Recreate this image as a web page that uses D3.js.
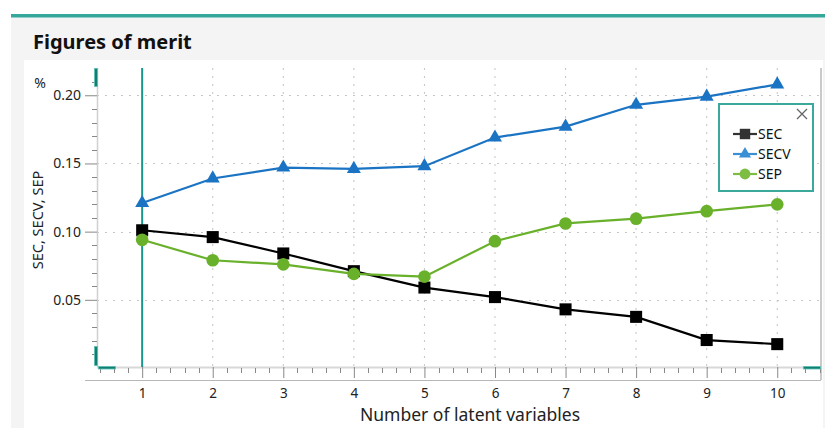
<!DOCTYPE html>
<html>
<head>
<meta charset="utf-8">
<script src="https://cdn.jsdelivr.net/npm/d3@7"></script>
<style>
  html, body { margin: 0; padding: 0; background: #fff; }
  svg { display: block; font-family: "Noto Sans", "Open Sans", sans-serif; }
</style>
</head>
<body>
<svg id="chart" width="825" height="428"></svg>
<script>
// Figures of merit per number of latent variables
const latentVars = [1, 2, 3, 4, 5, 6, 7, 8, 9, 10];
const secValues  = [0.101, 0.096, 0.084, 0.071, 0.059, 0.052, 0.043, 0.0375, 0.0205, 0.0175];
const secvValues = [0.121, 0.139, 0.147, 0.146, 0.148, 0.169, 0.177, 0.193, 0.199, 0.208];
const sepValues  = [0.094, 0.079, 0.076, 0.069, 0.067, 0.093, 0.106, 0.1095, 0.115, 0.120];
const yTickValues = [0.05, 0.10, 0.15, 0.20];
const seriesNames = ["SEC", "SECV", "SEP"];

(function draw() {
  const TEAL = "#17978b";
  const colors = { SEC: "#000000", SECV: "#1b74c3", SEP: "#69b02b" };
  const legendColors = { SEC: "#333333", SECV: "#3b8fd4", SEP: "#7dbd44" };

  const svg = d3.select("#chart");

  // panel frame
  svg.append("rect").attr("x", 11).attr("y", 17).attr("width", 814).attr("height", 411).attr("fill", "#f4f4f4");
  svg.append("rect").attr("x", 11).attr("y", 14).attr("width", 814).attr("height", 3.5).attr("fill", "#36a89b");
  svg.append("rect").attr("x", 24).attr("y", 60).attr("width", 799).attr("height", 368).attr("fill", "#ffffff");
  svg.append("text").attr("x", 33).attr("y", 49).attr("font-size", 20).attr("font-weight", "bold")
    .attr("fill", "#111").text("Figures of merit");

  // plot geometry
  const pLeft = 97, pRight = 821, pTop = 68, pBottom = 367;
  const x = d3.scaleLinear().domain([0.36, 10.62]).range([pLeft, pRight]);
  const y = d3.scaleLinear().domain([0, 0.22]).range([pBottom + 1, pTop]);

  const g = svg.append("g");

  // dotted grid
  g.selectAll("line.vgrid").data(latentVars).join("line").attr("class", "vgrid")
    .attr("x1", d => x(d)).attr("x2", d => x(d)).attr("y1", pTop).attr("y2", pBottom)
    .attr("stroke", "#c4c4c4").attr("stroke-dasharray", "2,6");
  g.selectAll("line.hgrid").data(yTickValues).join("line").attr("class", "hgrid")
    .attr("x1", pLeft).attr("x2", pRight)
    .attr("y1", d => Math.round(y(d)) + 0.5).attr("y2", d => Math.round(y(d)) + 0.5)
    .attr("stroke", "#c4c4c4").attr("stroke-dasharray", "2,6");

  // frame lines
  g.append("line").attr("x1", pRight).attr("x2", pRight).attr("y1", pTop).attr("y2", 380)
    .attr("stroke", "#b8b8b8").attr("stroke-width", 1.5);
  g.append("line").attr("x1", 85).attr("x2", pRight).attr("y1", 380.5).attr("y2", 380.5)
    .attr("stroke", "#b8b8b8").attr("stroke-width", 1.2);

  // y axis
  const yMinor = d3.range(1, 22).map(i => i / 100);
  const yAxis = d3.axisLeft(y).tickValues(yTickValues).tickFormat(d3.format(".2f")).tickSize(12).tickPadding(4);
  const yAxisG = g.append("g").attr("transform", `translate(${pLeft},0)`).call(yAxis);
  yAxisG.select(".domain").attr("stroke", "#d0d0d0").attr("stroke-width", 1.5).attr("d", `M0.5,${pTop}V${pBottom}`);
  yAxisG.selectAll(".tick line").attr("stroke", "#888");
  yAxisG.selectAll(".tick text").attr("font-size", 14).attr("fill", "#222").attr("font-family", "Noto Sans, sans-serif");
  g.append("g").selectAll("line").data(yMinor.filter(v => !yTickValues.some(t => Math.abs(t - v) < 1e-9))).join("line")
    .attr("x1", pLeft - 5).attr("x2", pLeft)
    .attr("y1", d => Math.round(y(d)) + 0.5).attr("y2", d => Math.round(y(d)) + 0.5)
    .attr("stroke", "#888");

  // x axis
  const xMinor = d3.range(2, 54).map(i => i / 5).filter(v => v <= 10.6 && Math.abs(v - Math.round(v)) > 1e-9);
  const xAxis = d3.axisBottom(x).tickValues(latentVars).tickFormat(d3.format("d")).tickSize(11).tickPadding(10);
  const xAxisG = g.append("g").attr("transform", `translate(0,${pBottom})`).call(xAxis);
  xAxisG.select(".domain").attr("stroke", "#d8d8d8").attr("stroke-width", 2).attr("d", `M${pLeft},0.5H${pRight}`);
  xAxisG.selectAll(".tick line").attr("stroke", "#888");
  xAxisG.selectAll(".tick text").attr("font-size", 13.5).attr("fill", "#222").attr("font-family", "Noto Sans, sans-serif");
  g.append("g").selectAll("line").data(xMinor).join("line")
    .attr("x1", d => Math.round(x(d)) + 0.5).attr("x2", d => Math.round(x(d)) + 0.5)
    .attr("y1", pBottom + 1).attr("y2", pBottom + 6).attr("stroke", "#888");

  // axis titles
  svg.append("text").attr("x", 470).attr("y", 421).attr("text-anchor", "middle")
    .attr("font-size", 17.5).attr("fill", "#222").text("Number of latent variables");
  svg.append("text").attr("transform", "translate(43,220) rotate(-90)").attr("text-anchor", "middle")
    .attr("font-size", 14.5).attr("fill", "#222").text("SEC, SECV, SEP");
  svg.append("text").attr("x", 40).attr("y", 88).attr("text-anchor", "middle")
    .attr("font-size", 14).attr("fill", "#222").text("%");

  // range handles on the axes
  const handle = (hx, hy, w, h) => svg.append("rect").attr("x", hx).attr("y", hy).attr("width", w).attr("height", h)
    .attr("fill", "#0f7f74").attr("stroke", "#5cc0b4").attr("stroke-width", 0.8);
  handle(94.5, 68.5, 3, 18);
  handle(94.5, 346.5, 3, 19);
  handle(98.5, 366.5, 17, 2.5);
  handle(803.5, 366.5, 17, 2.5);

  // selected-component cursor
  g.append("line").attr("x1", x(1)).attr("x2", x(1)).attr("y1", pTop).attr("y2", pBottom)
    .attr("stroke", TEAL).attr("stroke-width", 2);

  // series
  const series = [
    { name: "SEC", values: secValues, symbol: d3.symbolSquare, size: 145 },
    { name: "SECV", values: secvValues, symbol: d3.symbolTriangle, size: 85 },
    { name: "SEP", values: sepValues, symbol: d3.symbolCircle, size: 125 }
  ];
  const line = d3.line().x((d, i) => x(latentVars[i])).y(d => y(d));

  series.forEach(s => {
    const sg = g.append("g");
    sg.append("path").datum(s.values).attr("d", line).attr("fill", "none")
      .attr("stroke", colors[s.name]).attr("stroke-width", 2.2);
    sg.selectAll("path.m").data(s.values).join("path").attr("class", "m")
      .attr("transform", (d, i) => `translate(${x(latentVars[i])},${y(d)})`)
      .attr("d", d3.symbol().type(s.symbol).size(s.size))
      .attr("fill", colors[s.name]);
  });

  // legend
  const lg = svg.append("g").attr("transform", "translate(719,104)");
  lg.append("rect").attr("width", 94).attr("height", 87).attr("fill", "#fff")
    .attr("stroke", "#3aa99c").attr("stroke-width", 2);
  lg.append("path").attr("d", "M78,5 L88,15 M88,5 L78,15").attr("stroke", "#666").attr("stroke-width", 1.3);
  series.forEach((s, i) => {
    const ly = 30 + i * 20;
    lg.append("line").attr("x1", 14).attr("x2", 38).attr("y1", ly).attr("y2", ly)
      .attr("stroke", legendColors[s.name]).attr("stroke-width", 2.2);
    lg.append("path").attr("transform", `translate(26,${ly})`)
      .attr("d", d3.symbol().type(s.symbol).size(s.size * 0.75)).attr("fill", legendColors[s.name]);
    lg.append("text").attr("x", 39).attr("y", ly + 5).attr("font-size", 14).attr("fill", "#111").text(seriesNames[i]);
  });
})();
</script>
</body>
</html>
